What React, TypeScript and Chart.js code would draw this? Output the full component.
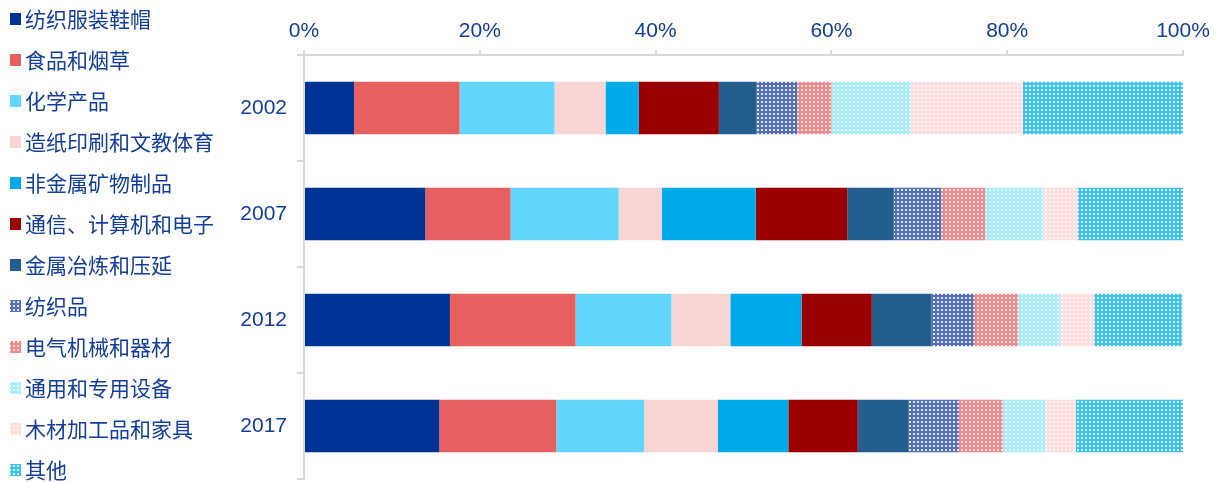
import React, { useEffect, useRef } from "react";
import { Chart, registerables } from "chart.js";

Chart.register(...registerables);

const years = ["2002", "2007", "2012", "2017"];
const xTicks = [0, 20, 40, 60, 80, 100];

const seriesNames = [
  "纺织服装鞋帽",
  "食品和烟草",
  "化学产品",
  "造纸印刷和文教体育",
  "非金属矿物制品",
  "通信、计算机和电子",
  "金属冶炼和压延",
  "纺织品",
  "电气机械和器材",
  "通用和专用设备",
  "木材加工品和家具",
  "其他",
];

const textileApparel = [5.7, 13.8, 16.6, 15.4];
const foodTobacco = [12.0, 9.7, 14.3, 13.3];
const chemicals = [10.8, 12.3, 10.9, 10.0];
const paperPrinting = [5.8, 4.9, 6.7, 8.4];
const nonMetalMinerals = [3.8, 10.7, 8.1, 8.0];
const electronics = [9.1, 10.4, 8.0, 7.9];
const metalSmelting = [4.3, 5.3, 6.8, 5.8];
const textiles = [4.6, 5.4, 4.8, 5.7];
const electricalMachinery = [3.9, 5.0, 5.0, 5.0];
const generalEquipment = [9.0, 6.6, 4.8, 4.8];
const woodFurniture = [12.8, 3.9, 3.9, 3.5];
const others = [18.3, 12.1, 10.0, 12.2];

const seriesValues = [
  textileApparel,
  foodTobacco,
  chemicals,
  paperPrinting,
  nonMetalMinerals,
  electronics,
  metalSmelting,
  textiles,
  electricalMachinery,
  generalEquipment,
  woodFurniture,
  others,
];

const TEXT_COLOR = "#123D9A";
const AXIS_COLOR = "#D9D9D9";

function makePattern(base: string, dot: string): CanvasPattern | string {
  const c = document.createElement("canvas");
  c.width = 4;
  c.height = 4;
  const g = c.getContext("2d");
  if (!g) return base;
  g.fillStyle = base;
  g.fillRect(0, 0, 4, 4);
  g.fillStyle = dot;
  g.fillRect(1, 1, 2, 2);
  const p = g.createPattern(c, "repeat");
  return p || base;
}

export default function App() {
  const ref = useRef<HTMLCanvasElement | null>(null);

  useEffect(() => {
    document.body.style.margin = "0";
    const canvas = ref.current;
    if (!canvas) return;

    const colors: (string | CanvasPattern)[] = [
      "#003396",
      "#E66060",
      "#63D6FE",
      "#F8D4D4",
      "#00AAE8",
      "#9B0000",
      "#245E8E",
      makePattern("#5470BC", "#E2E7F5"),
      makePattern("#F08A8A", "#FDE4E4"),
      makePattern("#A8ECFF", "#E6F9FF"),
      makePattern("#FCDEDE", "#FFF3F3"),
      makePattern("#3EC3F0", "#D6F2FD"),
    ];

    const legendPlugin = {
      id: "sideLegend",
      afterDraw(chart: any) {
        const ctx = chart.ctx;
        ctx.save();
        chart.data.datasets.forEach((ds: any, i: number) => {
          const cy = 19 + 41 * i;
          ctx.fillStyle = ds.backgroundColor;
          ctx.fillRect(10, cy - 6, 11, 12);
          ctx.fillStyle = TEXT_COLOR;
          ctx.font = '21px "Noto Sans CJK SC", sans-serif';
          ctx.textBaseline = "middle";
          ctx.textAlign = "left";
          ctx.fillText(ds.label, 25, cy);
        });
        ctx.restore();
      },
    };

    const chart = new Chart(canvas, {
      type: "bar",
      data: {
        labels: years,
        datasets: seriesNames.map((name, i) => ({
          label: name,
          data: seriesValues[i],
          backgroundColor: colors[i] as any,
          borderWidth: 0,
          categoryPercentage: 1,
          barPercentage: 0.495,
        })),
      },
      options: {
        indexAxis: "y",
        responsive: false,
        animation: false,
        layout: { padding: { top: 0, right: 33, bottom: 3, left: 0 } },
        plugins: {
          legend: { display: false },
          tooltip: { enabled: false },
        },
        scales: {
          x: {
            position: "top",
            stacked: true,
            min: 0,
            max: 100,
            afterBuildTicks: (s: any) => {
              s.ticks = xTicks.map((v) => ({ value: v }));
            },
            afterFit: (s: any) => {
              s.height = 55;
            },
            ticks: {
              color: TEXT_COLOR,
              font: { family: '"Liberation Sans", Arial, sans-serif', size: 21 },
              padding: 6,
              callback: (v: any) => v + "%",
            },
            grid: {
              drawOnChartArea: false,
              color: AXIS_COLOR,
              lineWidth: 2,
              tickLength: 5,
            },
            border: { color: AXIS_COLOR, width: 2 },
          },
          y: {
            stacked: true,
            afterFit: (s: any) => {
              s.width = 304;
              s.paddingTop = 0;
              s.paddingBottom = 0;
            },
            ticks: {
              color: TEXT_COLOR,
              font: { family: '"Liberation Sans", Arial, sans-serif', size: 21 },
              padding: 10,
            },
            grid: {
              drawOnChartArea: false,
              color: AXIS_COLOR,
              lineWidth: 2,
              tickLength: 7,
            },
            border: { color: AXIS_COLOR, width: 2 },
          },
        },
      },
      plugins: [legendPlugin],
    });

    return () => chart.destroy();
  }, []);

  return (
    <div style={{ width: 1216, height: 482 }}>
      <canvas ref={ref} width={1216} height={482} style={{ display: "block" }} />
    </div>
  );
}
